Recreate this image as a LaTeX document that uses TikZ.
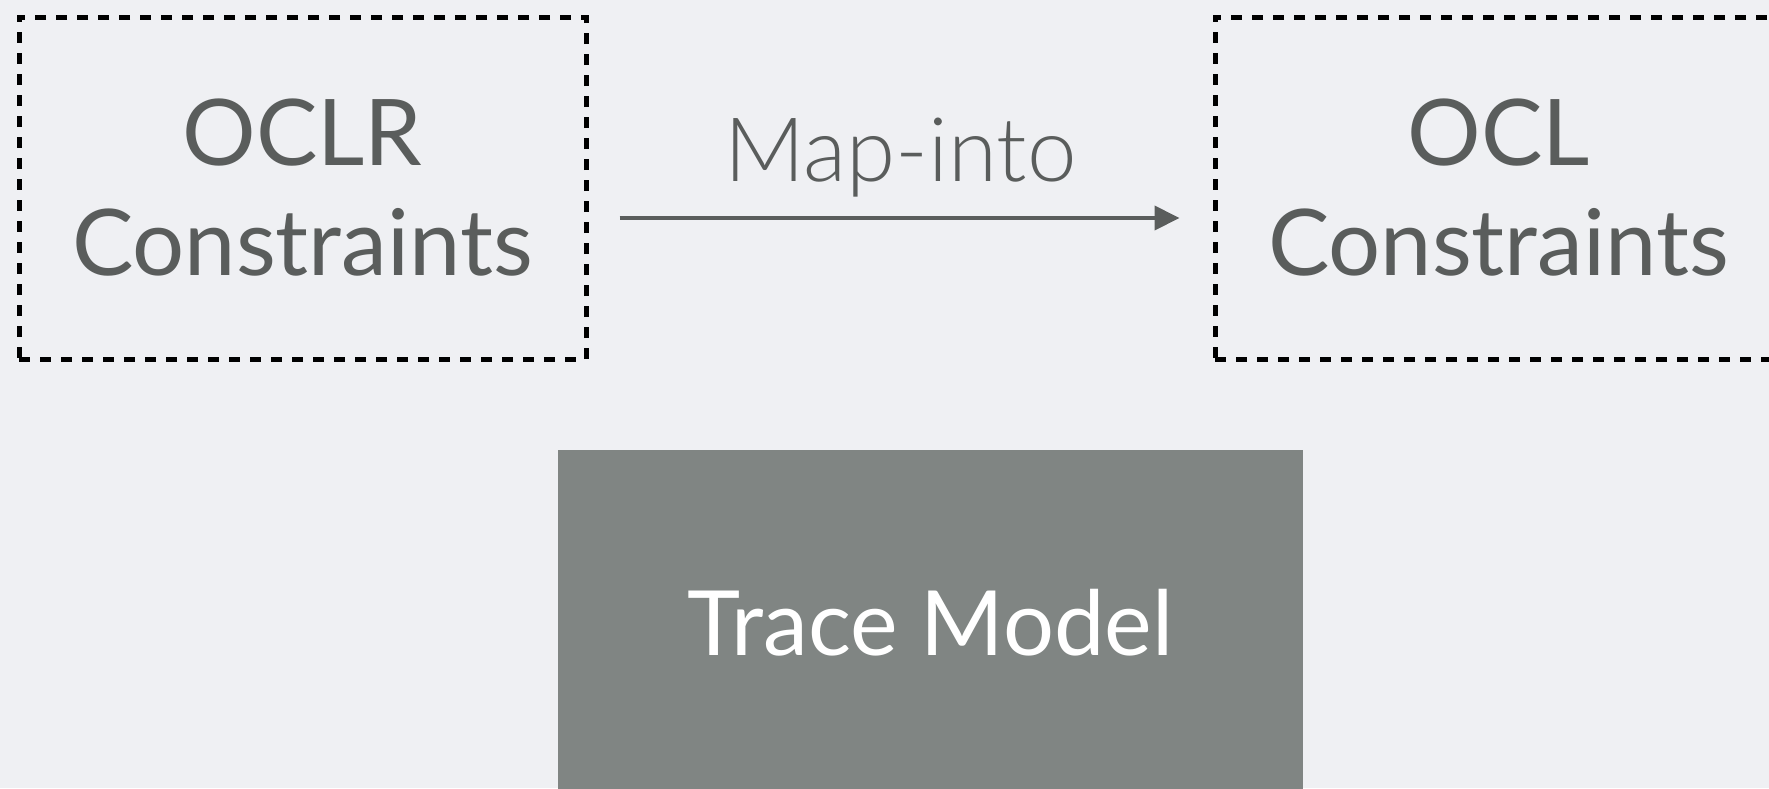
\documentclass[tikz,border=0pt]{standalone}
\usepackage{fontspec}
\setmainfont{Lato}
\newfontfamily\lightfont{Lato Light}
\usetikzlibrary{arrows.meta}
\definecolor{bgc}{HTML}{EFF0F3}
\definecolor{txt}{HTML}{5A5D5C}
\definecolor{boxfill}{HTML}{808583}
\tikzset{
  dashbox/.style={draw=black, line width=5pt, dash pattern=on 11pt off 10pt,
    minimum width=567pt, minimum height=342pt, inner sep=0pt,
    align=center, text=txt, font=\fontsize{92}{110}\selectfont},
  tracebox/.style={fill=boxfill, minimum width=745pt, minimum height=346pt,
    inner sep=0pt, text=white, font=\fontsize{90}{110}\selectfont},
  maparrow/.style={draw=txt, line width=4pt,
    -{Triangle[length=25pt,width=24pt]}},
  maplabel/.style={text=txt, font=\lightfont\fontsize{89}{110}\selectfont,
    inner sep=0pt, anchor=base}
}
\begin{document}
\begin{tikzpicture}[x=1pt,y=-1pt]
\fill[bgc] (0,0) rectangle (1769,788);
\useasboundingbox (0,0) rectangle (1769,788);
\clip (0,0) rectangle (1769,788);
\node[dashbox] (oclr) at (302.5,188) {OCLR\\Constraints};
\node[dashbox] (ocl) at (1498.5,188) {OCL\\Constraints};
\node[tracebox] (trace) at (930.5,623) {Trace Model};
\draw[maparrow, shorten <=31pt, shorten >=33pt]
  ([yshift=-30pt]oclr.east) -- ([yshift=-30pt]ocl.west)
  node[maplabel, midway, yshift=37pt] (maplbl) {Map-into};
\end{tikzpicture}
\end{document}
